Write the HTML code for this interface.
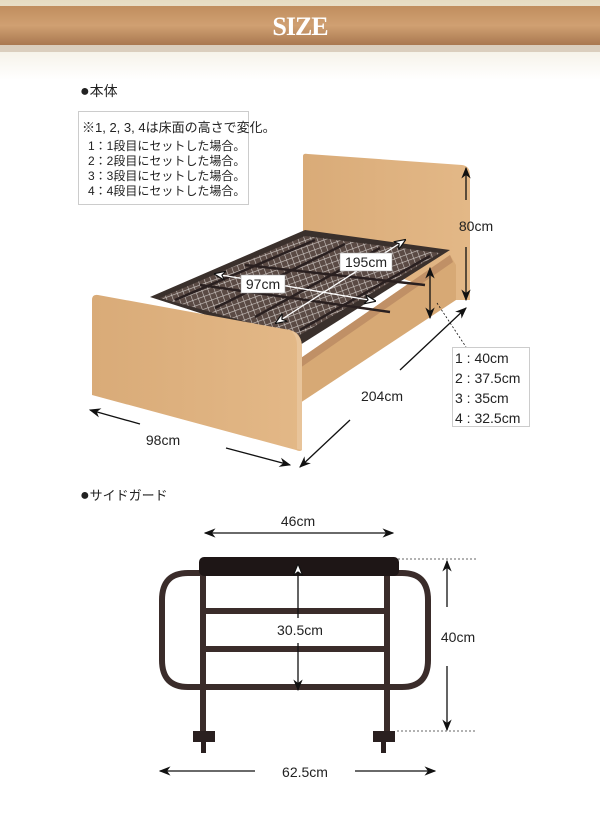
<!DOCTYPE html>
<html><head><meta charset="utf-8"><style>
body{margin:0;background:#fff;}
svg{display:block;font-family:"Liberation Sans","Noto Sans CJK JP",sans-serif;}
</style></head><body>
<svg width="600" height="825" viewBox="0 0 600 825" xmlns="http://www.w3.org/2000/svg">
<defs>
<linearGradient id="bg" x1="0" y1="0" x2="0" y2="1">
<stop offset="0" stop-color="#e6dcc2"/><stop offset="1" stop-color="#fff"/></linearGradient>
<linearGradient id="wood" x1="0" y1="0" x2="0" y2="1">
<stop offset="0" stop-color="#c08e5e"/><stop offset="0.5" stop-color="#d0a072"/><stop offset="1" stop-color="#a97850"/></linearGradient>
<linearGradient id="board" x1="0" y1="0" x2="1" y2="0">
<stop offset="0" stop-color="#d9ab78"/><stop offset="1" stop-color="#e3b887"/></linearGradient>
<pattern id="mesh" width="6" height="6" patternUnits="userSpaceOnUse" patternTransform="rotate(-20)">
<rect width="6" height="6" fill="#5a4a44"/><path d="M0,0H6M0,0V6" stroke="#cfc8c4" stroke-width="1.2"/></pattern>
<marker id="ar" viewBox="0 0 10 10" refX="9" refY="5" markerWidth="9" markerHeight="9" orient="auto-start-reverse"><path d="M0,1 L10,5 L0,9 L3,5z" fill="#111"/></marker>
<marker id="arw" viewBox="0 0 10 10" refX="9" refY="5" markerWidth="9" markerHeight="9" orient="auto-start-reverse"><path d="M0,1 L10,5 L0,9 L3,5z" fill="#fff" stroke="#111"/></marker>
</defs>
<rect x="0" y="0" width="600" height="80" fill="url(#bg)"/>
<rect x="0" y="44" width="600" height="8" fill="#a88d70" opacity="0.35"/>
<rect x="0" y="6" width="600" height="39" fill="url(#wood)"/>
<text x="300" y="35" text-anchor="middle" font-family="Liberation Serif,serif" font-size="26" fill="#fff" font-weight="bold" style="letter-spacing:-1px">SIZE</text>

<text x="80" y="96" font-size="14" fill="#222"><tspan font-size="16">●</tspan>本体</text>
<rect x="78.5" y="111.5" width="170" height="93" fill="#fff" stroke="#ccc"/>
<text x="82" y="132" font-size="13" fill="#222">※1, 2, 3, 4は床面の高さで変化。</text>
<g font-size="12" fill="#222">
<text x="88" y="150">1：1段目にセットした場合。</text>
<text x="88" y="165">2：2段目にセットした場合。</text>
<text x="88" y="180">3：3段目にセットした場合。</text>
<text x="88" y="195">4：4段目にセットした場合。</text>
</g>

<!-- headboard -->
<path d="M303,156 Q303,153 308,154 L462,165 Q470,166 470,175 L470,300 L456,300 L303,238 Z" fill="url(#board)"/>
<!-- side rail -->
<path d="M298,360 L450,255 L456,265 L456,300 L300,403 Z" fill="#d7a975"/>
<path d="M298,360 L450,255 L453,262 L300,368 Z" fill="#c09066"/>
<!-- slat frame -->
<path d="M150,297 L305,230 L450,250 L300,345 Z" fill="#3a302c"/>
<path d="M160,298 L305,236 L440,253 L298,336 Z" fill="url(#mesh)"/>
<g stroke="#2a2020" stroke-width="2.5" fill="none">
<path d="M175,300 L315,240 M215,308 L345,244 M255,317 L380,248 M300,330 L430,256 M200,285 L390,312 M245,265 L425,285"/>
</g>
<!-- footboard -->
<path d="M92,300 Q92,294 98,295 L290,330 Q302,333 302,348 L302,450 Q300,452 296,450 L92,395 Z" fill="url(#board)"/>
<path d="M291,331 Q302,334 302,348 L302,450 L297,449 L297,346 Q297,336 291,331Z" fill="#e8c49a"/>

<!-- bed arrows -->
<g stroke="#111" stroke-width="1.3" fill="none">
<line x1="466" y1="168" x2="466" y2="200" marker-start="url(#ar)"/>
<line x1="466" y1="247" x2="466" y2="300" marker-end="url(#ar)"/>
<line x1="430" y1="268" x2="430" y2="318" marker-start="url(#ar)" marker-end="url(#ar)"/>
<line x1="437" y1="303" x2="466" y2="347" stroke-dasharray="2,2" stroke-width="0.8"/>
<line x1="400" y1="370" x2="466" y2="308" marker-end="url(#ar)"/>
<line x1="350" y1="420" x2="300" y2="467" marker-end="url(#ar)"/>
<line x1="140" y1="424" x2="90" y2="410" marker-end="url(#ar)"/>
<line x1="226" y1="448" x2="290" y2="465" marker-end="url(#ar)"/>
</g>
<g stroke="#fff" stroke-width="1.3" fill="none">
<line x1="215" y1="274" x2="375" y2="301" marker-start="url(#arw)" marker-end="url(#arw)"/>
<line x1="276" y1="323" x2="405" y2="240" marker-start="url(#arw)" marker-end="url(#arw)"/>
</g>
<rect x="340" y="253" width="52" height="18" fill="#fff" stroke="#999" stroke-width="0.5"/>
<text x="366" y="267" text-anchor="middle" font-size="14" fill="#222">195cm</text>
<rect x="241" y="275" width="44" height="18" fill="#fff" stroke="#999" stroke-width="0.5"/>
<text x="263" y="289" text-anchor="middle" font-size="14" fill="#222">97cm</text>
<text x="476" y="231" text-anchor="middle" font-size="14" fill="#222">80cm</text>
<text x="382" y="401" text-anchor="middle" font-size="14" fill="#222">204cm</text>
<text x="163" y="445" text-anchor="middle" font-size="14" fill="#222">98cm</text>
<rect x="452.5" y="347.5" width="77" height="79" fill="#fff" stroke="#ccc"/>
<g font-size="14" fill="#222">
<text x="455" y="363">1 : 40cm</text>
<text x="455" y="383">2 : 37.5cm</text>
<text x="455" y="403">3 : 35cm</text>
<text x="455" y="423">4 : 32.5cm</text>
</g>

<!-- side guard -->
<text x="80" y="500" font-size="13" fill="#222"><tspan font-size="16">●</tspan>サイドガード</text>
<g stroke="#3a2c2a" fill="none" stroke-width="6">
<path d="M205,573 L188,573 Q162,573 162,600 L162,660 Q162,687 188,687 L402,687 Q428,687 428,660 L428,600 Q428,573 402,573 L385,573"/>
<path d="M203,575 L203,735 M387,575 L387,735"/>
<path d="M205,611 L385,611 M205,649 L385,649"/>
</g>
<rect x="199" y="557" width="200" height="19" rx="5" fill="#1e1616"/>
<rect x="193" y="731" width="22" height="11" fill="#2a2020"/>
<rect x="373" y="731" width="22" height="11" fill="#2a2020"/>
<rect x="201" y="742" width="5" height="11" fill="#2a2020"/>
<rect x="381" y="742" width="5" height="11" fill="#2a2020"/>
<g stroke="#111" stroke-width="1.3" fill="none">
<line x1="205" y1="533" x2="393" y2="533" marker-start="url(#ar)" marker-end="url(#ar)"/>
<line x1="298" y1="565" x2="298" y2="618" marker-start="url(#arw)"/>
<line x1="298" y1="643" x2="298" y2="690" marker-end="url(#ar)"/>
<line x1="447" y1="561" x2="447" y2="607" marker-start="url(#ar)"/>
<line x1="447" y1="666" x2="447" y2="730" marker-end="url(#ar)"/>
<line x1="160" y1="771" x2="255" y2="771" marker-start="url(#ar)"/>
<line x1="355" y1="771" x2="435" y2="771" marker-end="url(#ar)"/>
</g>
<g stroke="#333" stroke-width="0.8" stroke-dasharray="2,2">
<line x1="398" y1="559" x2="476" y2="559"/>
<line x1="397" y1="731" x2="476" y2="731"/>
</g>
<text x="298" y="526" text-anchor="middle" font-size="14" fill="#222">46cm</text>
<text x="300" y="635" text-anchor="middle" font-size="14" fill="#222">30.5cm</text>
<text x="458" y="642" text-anchor="middle" font-size="14" fill="#222">40cm</text>
<text x="305" y="777" text-anchor="middle" font-size="14" fill="#222">62.5cm</text>
</svg>
</body></html>
